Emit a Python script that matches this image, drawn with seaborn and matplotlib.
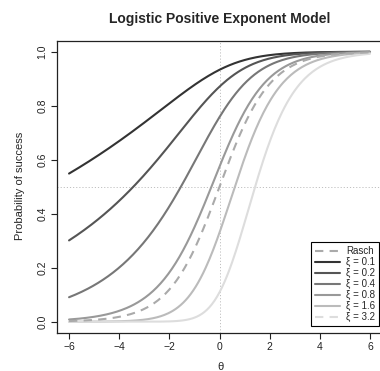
import numpy as np
import pandas as pd
import matplotlib
matplotlib.use("Agg")
import matplotlib.pyplot as plt
from matplotlib.lines import Line2D
import seaborn as sns

# Model parameters: acceptance exponents of the LPE curves
xi_values = [0.1, 0.2, 0.4, 0.8, 1.6, 3.2]
xi_labels = ["ξ = 0.1", "ξ = 0.2", "ξ = 0.4", "ξ = 0.8", "ξ = 1.6", "ξ = 3.2"]
xi_colors = ["#333333", "#555555", "#777777", "#999999", "#bbbbbb", "#dddddd"]
rasch_label = "Rasch"
rasch_color = "#aaaaaa"

theta_min, theta_max = -6, 6
x_ticks = [-6, -4, -2, 0, 2, 4, 6]
y_ticks = [0.0, 0.2, 0.4, 0.6, 0.8, 1.0]

theta = np.linspace(theta_min, theta_max, 241)
logistic = 1.0 / (1.0 + np.exp(-theta))

frames = []
for lab, xi in zip(xi_labels, xi_values):
    frames.append(pd.DataFrame({"theta": theta, "p": logistic ** xi, "curve": lab}))
df = pd.concat(frames, ignore_index=True)
rasch = pd.DataFrame({"theta": theta, "p": logistic})

sns.set_theme(style="ticks")
plt.rcParams["font.family"] = ["Liberation Sans", "DejaVu Sans"]

fig = plt.figure(figsize=(3.8, 3.71), dpi=100)
ax = fig.add_axes([57 / 380, 1 - 332.5 / 371, 325 / 380, (332.5 - 40.9) / 371])

ax.axvline(0, color="#c0c0c0", lw=0.7, ls=(0, (1.2, 2)), zorder=0)
ax.axhline(0.5, color="#c0c0c0", lw=0.7, ls=(0, (1.2, 2)), zorder=0)

sns.lineplot(data=df, x="theta", y="p", hue="curve", hue_order=xi_labels,
             palette=xi_colors, lw=1.5, legend=False, ax=ax)
sns.lineplot(data=rasch, x="theta", y="p", color=rasch_color, lw=1.5,
             ls=(0, (4, 3)), ax=ax)

ax.set_xlim(-6.48, 6.48)
ax.set_ylim(-0.04, 1.04)
ax.set_xticks(x_ticks)
ax.set_xticklabels([str(t).replace("-", "\u2212") for t in x_ticks])
ax.set_yticks(y_ticks)
ax.set_yticklabels([f"{t:.1f}" for t in y_ticks], rotation=90, va="center")
ax.tick_params(axis="both", labelsize=7.5, length=4, width=0.8, color="#222222",
               labelcolor="#222222", pad=3)
ax.set_xlabel("")
ax.set_ylabel("")
for s in ax.spines.values():
    s.set_color("#222222")
    s.set_linewidth(0.9)

handles = [Line2D([], [], color=rasch_color, lw=1.5, ls=(0, (4, 3)))]
handles += [Line2D([], [], color=c, lw=1.5) for c in xi_colors[:-1]]
handles += [Line2D([], [], color=xi_colors[-1], lw=1.5, ls=(0, (4, 3)))]
leg = ax.legend(handles, [rasch_label] + xi_labels, loc="lower right",
                bbox_to_anchor=(0.991, 0.022), fontsize=7, frameon=True,
                fancybox=False, edgecolor="black", framealpha=1,
                handlelength=2.6, handletextpad=0.6, labelspacing=0.1,
                borderpad=0.4, borderaxespad=0.0)
leg.get_frame().set_linewidth(0.8)

fig.text(220 / 380, 1 - 19 / 371, "Logistic Positive Exponent Model", ha="center",
         va="center", fontsize=10, fontweight="bold")
fig.text(20 / 380, 1 - 186 / 371, "Probability of success", rotation=90,
         ha="center", va="center", fontsize=8)
fig.text(220 / 380, 1 - 367 / 371, "θ", ha="center", va="center", fontsize=8)

fig.savefig("out.png", dpi=100)
